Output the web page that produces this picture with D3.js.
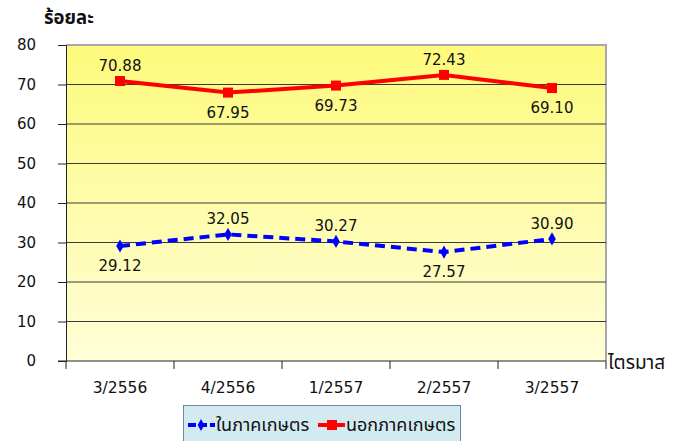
<!DOCTYPE html>
<html><head><meta charset="utf-8">
<script src="https://cdn.jsdelivr.net/npm/d3@7"></script>
<style>body{margin:0;background:#fff}svg{display:block}</style>
</head><body>
<svg id="c" width="680" height="441"></svg>
<script>
const categories = ["3/2556","4/2556","1/2557","2/2557","3/2557"];
const inAgri = [29.12, 32.05, 30.27, 27.57, 30.90];
const outAgri = [70.88, 67.95, 69.73, 72.43, 69.10];
const yTicks = [0,10,20,30,40,50,60,70,80];
const seriesNames = ["ในภาคเกษตร","นอกภาคเกษตร"];
const inLabelPos = ["below","above","above","below","above"];
const outLabelPos = ["above","below","below","above","below"];

const svg = d3.select("#c");
const font = "Tahoma, 'DejaVu Sans', Verdana, sans-serif";
const thai = "'Noto Sans Thai','Noto Sans', Tahoma, sans-serif";
const L = 66, R = 606, T = 45, B = 361;

const x = d3.scaleBand().domain(categories).range([L, R]).padding(0);
const y = d3.scaleLinear().domain([0, 80]).range([B, T]);

const defs = svg.append("defs");
const g = defs.append("linearGradient").attr("id","bg").attr("x1",0).attr("y1",0).attr("x2",0).attr("y2",1);
g.append("stop").attr("offset","0%").attr("stop-color","#fdfa7c");
g.append("stop").attr("offset","100%").attr("stop-color","#fffed8");

svg.append("rect").attr("x",L).attr("y",T).attr("width",R-L).attr("height",B-T).attr("fill","url(#bg)");
svg.append("path").attr("d",`M${L},${T}H${R}V${B}`).attr("fill","none").attr("stroke","#a8a8a8").attr("stroke-width",2);

svg.append("g").selectAll("line").data(yTicks.filter(d=>d>0 && d<80)).join("line")
  .attr("x1",L).attr("x2",R).attr("y1",d=>y(d)).attr("y2",d=>y(d))
  .attr("stroke","#3a3a3a").attr("stroke-width",1);

const ya = svg.append("g").attr("transform",`translate(${L},0)`)
  .call(d3.axisLeft(y).tickValues(yTicks).tickSize(8).tickPadding(22));
ya.select(".domain").attr("stroke","#222");
ya.selectAll(".tick line").attr("stroke","#222");
ya.selectAll("text").attr("font-family",font).attr("font-size",15).attr("fill","#111");

const xa = svg.append("g").attr("transform",`translate(0,${B})`)
  .call(d3.axisBottom(x).tickSize(0).tickPadding(21));
xa.select(".domain").attr("stroke","#222").attr("d",`M${L-8},0H${R}`);
xa.selectAll("text").attr("font-family",font).attr("font-size",15.5).attr("fill","#111");
const bounds = categories.map(c=>x(c)).concat([R]);
svg.append("g").selectAll("line").data(bounds).join("line")
  .attr("x1",d=>d).attr("x2",d=>d).attr("y1",B).attr("y2",B+8).attr("stroke","#222");

svg.append("text").attr("x",44).attr("y",24).attr("font-family",thai).attr("font-weight","bold").attr("font-size",18.5).attr("fill","#111").text("ร้อยละ");
svg.append("text").attr("x",608).attr("y",369).attr("font-family",thai).attr("font-size",19).attr("fill","#111").text("ไตรมาส");

const cx = c => x(c) + x.bandwidth()/2;
const line = d3.line().x((d,i)=>cx(categories[i])).y(d=>y(d));

svg.append("path").datum(outAgri).attr("d",line).attr("fill","none").attr("stroke","#ff0000").attr("stroke-width",4);
svg.append("g").selectAll("rect").data(outAgri).join("rect")
  .attr("x",(d,i)=>cx(categories[i])-5).attr("y",d=>y(d)-5).attr("width",10).attr("height",10).attr("fill","#ff0000");

svg.append("path").datum(inAgri).attr("d",line).attr("fill","none").attr("stroke","#0000ff").attr("stroke-width",4).attr("stroke-dasharray","10,6");
svg.append("g").selectAll("path").data(inAgri).join("path")
  .attr("d",d3.symbol().type(d3.symbolDiamond).size(50))
  .attr("transform",(d,i)=>`translate(${cx(categories[i])},${y(d)})`).attr("fill","#0000ff");

function labels(data,pos){
  svg.append("g").selectAll("text").data(data).join("text")
    .attr("x",(d,i)=>cx(categories[i])).attr("y",(d,i)=>y(d)+(pos[i]==="above"?-10:25))
    .attr("text-anchor","middle").attr("font-family",font).attr("font-size",15).attr("fill","#111")
    .text(d=>d.toFixed(2));
}
labels(outAgri,outLabelPos);
labels(inAgri,inLabelPos);

const lg = svg.append("g");
lg.append("rect").attr("x",183.5).attr("y",405.5).attr("width",277).attr("height",40).attr("fill","#d3ebf0").attr("stroke","#6f86a8").attr("stroke-width",1);
lg.append("line").attr("x1",188).attr("x2",215).attr("y1",425).attr("y2",425).attr("stroke","#0000ff").attr("stroke-width",4).attr("stroke-dasharray","8,3");
lg.append("path").attr("d",d3.symbol().type(d3.symbolDiamond).size(40)).attr("transform","translate(201,425)").attr("fill","#0000ff");
lg.append("text").attr("x",216).attr("y",431).attr("font-family",thai).attr("font-size",18).attr("fill","#111").text(seriesNames[0]);
lg.append("line").attr("x1",318).attr("x2",345).attr("y1",425).attr("y2",425).attr("stroke","#ff0000").attr("stroke-width",4);
lg.append("rect").attr("x",327).attr("y",420).attr("width",10).attr("height",10).attr("fill","#ff0000");
lg.append("text").attr("x",346).attr("y",431).attr("font-family",thai).attr("font-size",18).attr("fill","#111").text(seriesNames[1]);
</script>
</body></html>
